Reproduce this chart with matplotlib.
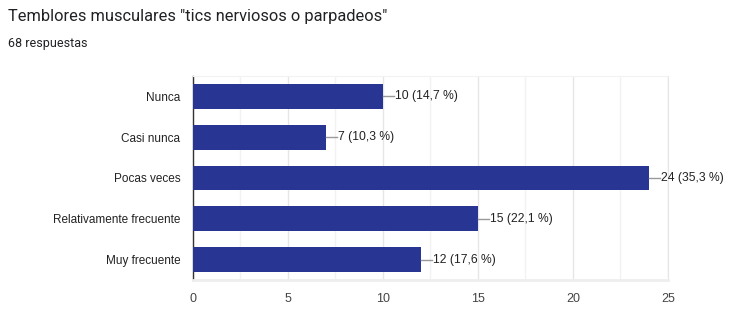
import matplotlib.pyplot as plt
import numpy as np

categorias = ["Nunca", "Casi nunca", "Pocas veces", "Relativamente frecuente", "Muy frecuente"]
valores = [10, 7, 24, 15, 12]
porcentajes = ["14,7", "10,3", "35,3", "22,1", "17,6"]
ticks_x = [0, 5, 10, 15, 20, 25]

plt.rcParams['font.family'] = ['Liberation Sans', 'DejaVu Sans']

fig = plt.figure(figsize=(7.37, 3.34), dpi=100)
ax = fig.add_axes([193 / 737, 1 - 280 / 334, (668 - 193) / 737, 204 / 334])

y = np.arange(len(categorias))
ax.barh(y, valores, height=0.61, color="#283593", zorder=3)

# etiquetas con línea guía
for yi, v, p in zip(y, valores, porcentajes):
    ax.plot([v, v + 0.6], [yi, yi], color="#999999", lw=1, zorder=3)
    ax.text(v + 0.63, yi, f"{v} ({p} %)", va="center", ha="left", fontsize=8.7, color="#222222")

ax.set_xlim(0, 25)
ax.set_ylim(len(categorias) - 0.5, -0.5)
ax.set_yticks(y)
ax.set_yticklabels(categorias, fontsize=8.5, color="#222222")
ax.set_xticks(ticks_x)
ax.set_xticklabels([str(t) for t in ticks_x], fontsize=9, color="#444444")
ax.set_xticks(np.arange(2.5, 25, 5), minor=True)
ax.tick_params(axis="both", which="both", length=0)
ax.tick_params(axis="y", pad=9)
ax.tick_params(axis="x", pad=9)

ax.grid(axis="x", which="major", color="#e6e6e6", lw=1, zorder=0)
ax.grid(axis="x", which="minor", color="#f2f2f2", lw=1, zorder=0)

ax.spines["left"].set_color("#333333")
ax.spines["left"].set_linewidth(1)
ax.spines["top"].set_color("#f2f2f2")
ax.spines["right"].set_color("#e6e6e6")
ax.spines["bottom"].set_color("#eeeeee")
ax.spines["bottom"].set_linewidth(2)

fig.text(8 / 737, 1 - 17 / 334, 'Temblores musculares "tics nerviosos o parpadeos"',
         fontsize=11.75, color="#202124", va="center", ha="left", family=["Roboto", "DejaVu Sans"])
fig.text(8 / 737, 1 - 44 / 334, "68 respuestas", fontsize=9, color="#202124",
         va="center", ha="left", family=["Roboto", "DejaVu Sans"])

fig.savefig("out.png", dpi=100)
